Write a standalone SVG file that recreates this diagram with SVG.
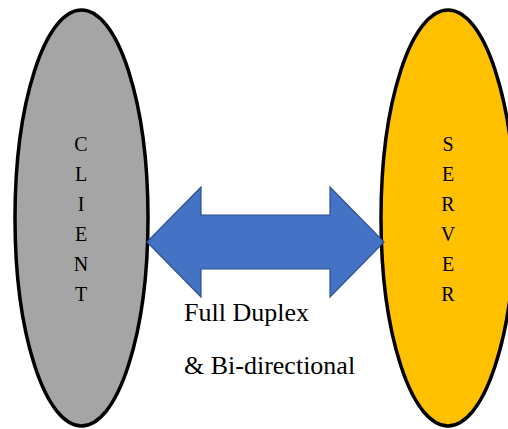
<svg xmlns="http://www.w3.org/2000/svg" width="508" height="429" viewBox="0 0 508 429">
<style>
.node{stroke:#000;stroke-width:3.5}
.lt{font-family:"Liberation Serif",serif;font-size:20px;fill:#000;text-anchor:middle}
.lbl{font-family:"Liberation Serif",serif;font-size:26px;fill:#000}
</style>
<rect width="508" height="429" fill="#fff"/>
<g id="client">
<ellipse class="node" cx="81.5" cy="218" rx="66.5" ry="208" fill="#A5A5A5"/>
<text class="lt" x="81" y="151">C</text>
<text class="lt" x="81" y="181">L</text>
<text class="lt" x="81" y="211">I</text>
<text class="lt" x="81" y="241">E</text>
<text class="lt" x="81" y="271">N</text>
<text class="lt" x="81" y="301">T</text>
</g>
<g id="server">
<ellipse class="node" cx="448" cy="218" rx="67" ry="208" fill="#FFC000"/>
<text class="lt" x="448" y="151">S</text>
<text class="lt" x="448" y="181">E</text>
<text class="lt" x="448" y="211">R</text>
<text class="lt" x="448" y="241">V</text>
<text class="lt" x="448" y="271">E</text>
<text class="lt" x="448" y="301">R</text>
</g>
<g id="connectors">
<polygon points="147,242 201,187 201,215 330,215 330,187 384,242 330,297 330,269 201,269 201,297" fill="#4472C4" stroke="#2F528F" stroke-width="1.2" stroke-linejoin="miter"/>
</g>
<g id="label">
<text class="lbl" x="184" y="321">Full Duplex</text>
<text class="lbl" x="184" y="374">&amp; Bi-directional</text>
</g>
</svg>
